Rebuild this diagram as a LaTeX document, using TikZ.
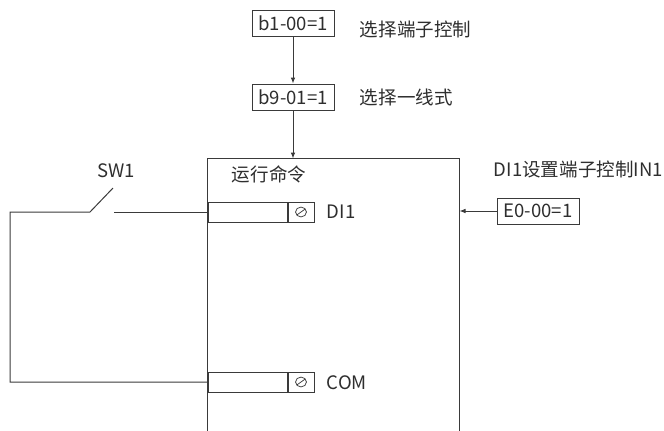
\documentclass[tikz,border=0pt]{standalone}
\usepackage{fontspec}
\setmainfont{Noto Sans CJK SC}
\usetikzlibrary{arrows.meta,positioning}
\definecolor{wire}{HTML}{3A3A3A}
\definecolor{ink}{HTML}{2E2E2E}
\newcommand{\labelSize}[0]{\fontsize{13.9}{16}\selectfont}

\begin{document}
\begin{tikzpicture}[x=0.75pt, y=-0.75pt, line width=0.75pt, color=wire, text=ink, font=\labelSize,
    >={Latex[length=4.5pt,width=3.5pt]}]
  \tikzset{param box/.style={draw, minimum width=61.5pt, minimum height=19.5pt, inner sep=0pt},
    terminal/.style={draw, minimum width=59.25pt, minimum height=15pt, inner sep=0pt},
    screw/.style={draw, minimum width=19.5pt, minimum height=15pt, inner sep=0pt,
      path picture={
        \draw[line width=0.55pt] (path picture bounding box.center) circle[x radius=4.1pt, y radius=3.7pt];
        \draw[line width=0.55pt] ([shift={(-3.1pt,-2.2pt)}]path picture bounding box.center)
          -- ([shift={(3.1pt,2.2pt)}]path picture bounding box.center);}},
    cabinet/.style={minimum width=188.25pt, minimum height=203.25pt, inner sep=0pt}}
  \useasboundingbox (0,0) rectangle (664,430);
  % parameters
  \node[param box] (b1) at (293,23) {b1-00=1};
  \node[anchor=west] (b1-note) at (355,29) {选择端子控制};
  \node[param box] (b9) at (293,97) {b9-01=1};
  \node[anchor=west] (b9-note) at (355,97) {选择一线式};
  % drive, open at the bottom
  \node[cabinet] (ctrl) at (333.5,294.5) {};
  \draw (ctrl.south west) |- (ctrl.north east) -- (ctrl.south east);
  \node[anchor=west] (run) at (227,174) {运行命令};
  \draw[->] (b1) -- (b9);
  \draw[->] (b9) -- (b9 |- ctrl.north);
  % terminals
  \node[terminal] (di1) at (247.5,212) {};
  \node[screw, right=0pt of di1] (di1-screw) {};
  \node[anchor=west] (di1-name) at (322,212) {DI1};
  \node[terminal] (com) at (247.5,382) {};
  \node[screw, right=0pt of com] (com-screw) {};
  \node[anchor=west] (com-name) at (322,383) {COM};
  % switch
  \node (sw1) at (116,171) {SW1};
  \coordinate (sw-contact) at (114,212);
  \coordinate (sw-pivot) at (90,212);
  \coordinate (sw-tip) at (113,188);
  \coordinate (sw-corner) at (10,212);
  \draw (di1.west) -- (sw-contact);
  \draw (sw-tip) -- (sw-pivot) -- (sw-corner) |- (com.west);
  % function code
  \node[anchor=west] (in1-note) at (489,169) {DI1设置端子控制IN1};
  \node[param box] (e0) at (538,211) {E0-00=1};
  \draw[->] (e0.west) -- (e0.west -| ctrl.east);
\end{tikzpicture}
\end{document}
